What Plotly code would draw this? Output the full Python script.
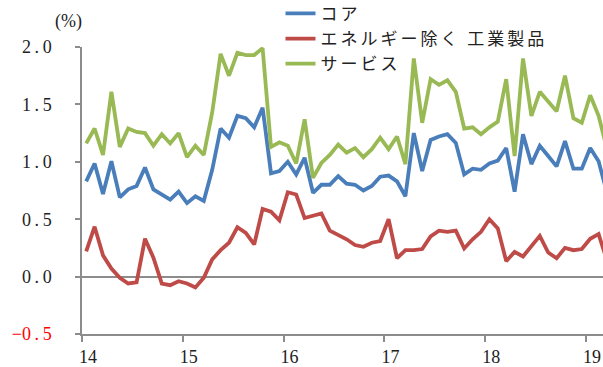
import plotly.graph_objects as go

# Monthly data, Jan 2014 .. Mar 2019 (y/y %, Japan CPI)
start_year = 2014
core = [0.83, 0.985, 0.72, 1.005, 0.69, 0.76, 0.79, 0.95, 0.76, 0.71, 0.67, 0.74,
        0.64, 0.70, 0.66, 0.93, 1.29, 1.21, 1.40, 1.38, 1.30, 1.47, 0.90, 0.92,
        1.00, 0.89, 1.035, 0.73, 0.80, 0.80, 0.875, 0.81, 0.80, 0.75, 0.79, 0.87,
        0.88, 0.83, 0.70, 1.25, 0.92, 1.19, 1.22, 1.24, 1.165, 0.89, 0.94, 0.93,
        0.985, 1.01, 1.12, 0.74, 1.24, 0.98, 1.14, 1.05, 0.96, 1.18, 0.94, 0.94,
        1.12, 1.005, 0.73]
goods = [0.22, 0.435, 0.185, 0.07, -0.01, -0.06, -0.05, 0.33, 0.165, -0.06, -0.075, -0.04,
         -0.06, -0.095, -0.01, 0.15, 0.23, 0.295, 0.43, 0.38, 0.28, 0.59, 0.565, 0.49,
         0.735, 0.715, 0.51, 0.53, 0.55, 0.40, 0.36, 0.325, 0.275, 0.26, 0.295, 0.31,
         0.50, 0.16, 0.23, 0.23, 0.24, 0.35, 0.40, 0.39, 0.40, 0.245, 0.325, 0.39,
         0.50, 0.42, 0.135, 0.215, 0.175, 0.27, 0.355, 0.21, 0.16, 0.25, 0.23, 0.24,
         0.33, 0.37, 0.14]
services = [1.16, 1.29, 1.06, 1.61, 1.13, 1.29, 1.26, 1.25, 1.14, 1.24, 1.16, 1.25,
            1.04, 1.14, 1.06, 1.43, 1.94, 1.75, 1.95, 1.93, 1.93, 1.99, 1.13, 1.17,
            1.14, 0.985, 1.37, 0.86, 0.99, 1.06, 1.15, 1.08, 1.12, 1.04, 1.11, 1.21,
            1.11, 1.22, 0.98, 1.90, 1.34, 1.72, 1.67, 1.71, 1.61, 1.29, 1.30, 1.24,
            1.30, 1.35, 1.72, 1.05, 1.90, 1.40, 1.61, 1.53, 1.44, 1.75, 1.38, 1.34,
            1.58, 1.40, 1.11]
series_names = ["コア", "エネルギー除く 工業製品", "サービス"]
series_colors = ["#4A7EBB", "#BE4B48", "#98B954"]
year_ticks = [2014, 2015, 2016, 2017, 2018, 2019]
year_labels = ["14", "15", "16", "17", "18", "19"]
y_ticks = [-0.5, 0.0, 0.5, 1.0, 1.5, 2.0]
y_labels = ["<span style='color:#FF0000'>\u22120\u2009.\u20095</span>", "0\u2009.\u20090",
            "0\u2009.\u20095", "1\u2009.\u20090", "1\u2009.\u20095", "2\u2009.\u20090"]

n = len(core)
x = [start_year + (i + 0.5) / 12 for i in range(n)]

fig = go.Figure()
for name, vals, col in zip(series_names, [core, goods, services], series_colors):
    fig.add_trace(go.Scatter(x=x, y=vals, mode="lines",
                             name="<span style='letter-spacing:3px'>" + name + "</span>",
                             line=dict(color=col, width=3.8)))

num_font = dict(family="Liberation Serif", size=18, color="#222222")
fig.update_layout(
    width=603, height=367,
    margin=dict(l=82, r=0, t=47, b=33, autoexpand=False),
    paper_bgcolor="white", plot_bgcolor="white",
    showlegend=True,
    legend=dict(x=0.381, y=1.178, xanchor="left", yanchor="top",
                bgcolor="rgba(0,0,0,0)", borderwidth=0,
                font=dict(family="Noto Sans CJK JP", size=17, color="#222222"),
                itemwidth=30, tracegroupgap=0),
    xaxis=dict(range=[2014, 2014 + 521 / 100.8], tickvals=year_ticks, ticktext=year_labels,
               showgrid=False, zeroline=False, showline=True, linecolor="#8C8C8C", linewidth=1.5,
               ticks="outside", ticklen=6, tickcolor="#8C8C8C", tickwidth=1.5,
               ticklabelshift=6, tickfont=num_font),
    yaxis=dict(range=[-0.5, 2.0], tickvals=y_ticks, ticktext=y_labels,
               showgrid=False, zeroline=True, zerolinecolor="#8C8C8C", zerolinewidth=1.5,
               showline=True, linecolor="#8C8C8C", linewidth=1.5,
               ticks="outside", ticklen=5, tickcolor="#8C8C8C", tickwidth=1.5,
               ticklabelstandoff=20, tickfont=num_font),
    annotations=[dict(text="(%)", xref="paper", yref="paper", x=-0.025, y=1.0,
                      xanchor="center", yanchor="bottom", yshift=13, showarrow=False,
                      font=dict(family="Liberation Serif", size=18, color="#222222"))],
)

fig.write_html("out.html")
